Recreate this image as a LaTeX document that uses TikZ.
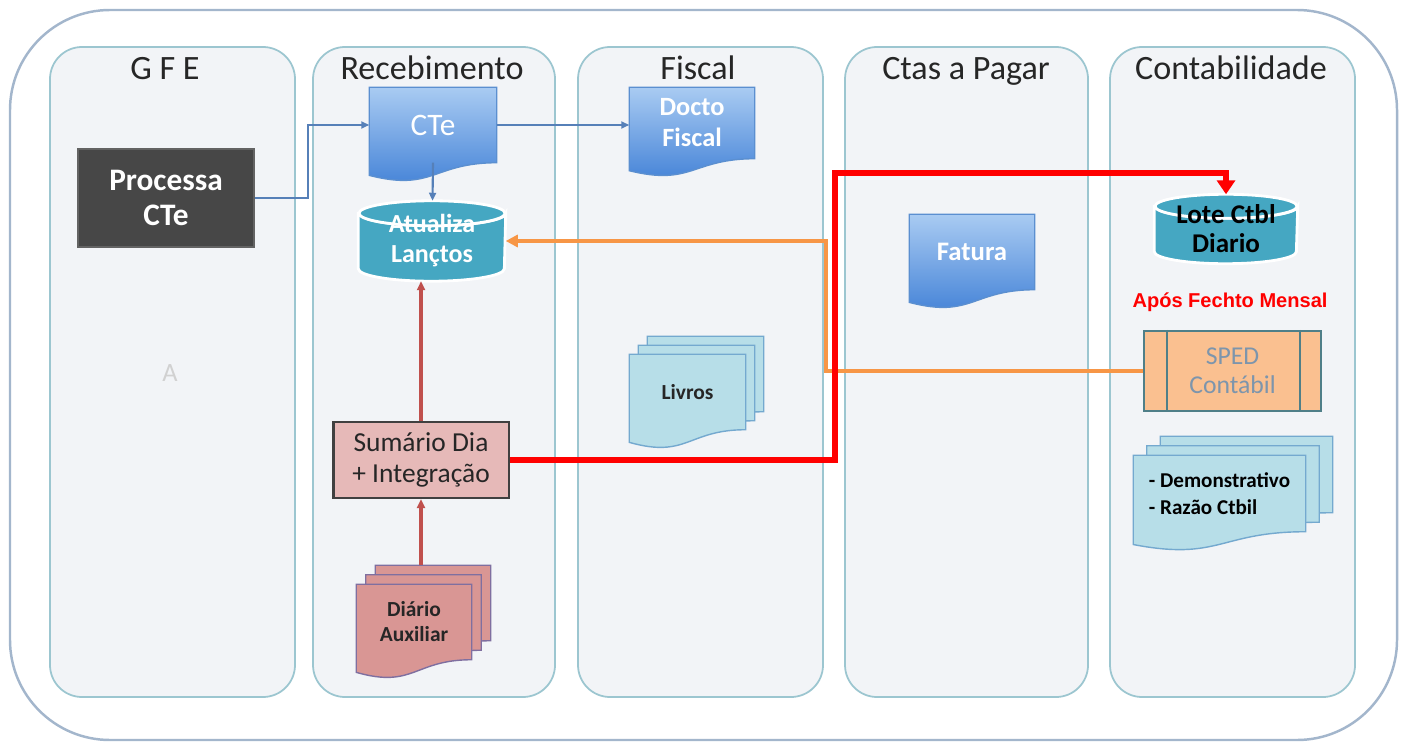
\documentclass[tikz,border=0pt]{standalone}
\usepackage{fontspec}
\setmainfont{Carlito}
\newfontfamily\arialfont{Liberation Sans}
\usepackage{xcolor}
\definecolor{lanefill}{HTML}{F2F4F7}
\definecolor{laneline}{HTML}{9CC6D0}
\definecolor{outerline}{HTML}{A3B6CC}
\definecolor{darkbox}{HTML}{474747}
\definecolor{doctop}{HTML}{A9CBF2}
\definecolor{docbot}{HTML}{3F7FD6}
\definecolor{docline}{HTML}{5B8FD0}
\definecolor{dbfill}{HTML}{45A7C2}
\definecolor{sumfill}{HTML}{E6B9B8}
\definecolor{diafill}{HTML}{D99694}
\definecolor{dialine}{HTML}{7F6FA0}
\definecolor{bookfill}{HTML}{B7DEE8}
\definecolor{bookline}{HTML}{74A9CF}
\definecolor{spedfill}{HTML}{FAC090}
\definecolor{spedline}{HTML}{4F7F88}
\definecolor{spedtext}{HTML}{7D95AC}
\definecolor{flowblue}{HTML}{5680B8}
\definecolor{flowbrown}{HTML}{C0504D}
\definecolor{flowred}{HTML}{FF0000}
\definecolor{floworange}{HTML}{F79646}
\usepackage{tikz}
\usetikzlibrary{arrows.meta,calc,backgrounds}
\pgfdeclarelayer{docs}
\pgfsetlayers{background,docs,main}
\newcommand{\docshape}[3]{%
  \path[#2] ($(#1.north west)+(#3)$) -- ($(#1.north east)+(#3)$) -- ($(#1.south east)+(#3)$)
    .. controls ($(#1.south)+(#3)$) and ($(#1.north)!1.385!(#1.south)+(#3)$)
    .. ($(#1.north west)!1.1675!(#1.south west)+(#3)$) -- cycle;}
\newcommand{\multidoc}[4]{%
  \docshape{#1}{#2}{2*#3,-2*#4}
  \docshape{#1}{#2}{#3,-#4}
  \docshape{#1}{#2}{0,0}}
\newcommand{\dbshape}[3]{%
  \path[dbpaint] ([yshift=-#3]#1.north west) -- ([yshift=#3]#1.south west)
    arc[start angle=180, end angle=360, x radius=#2, y radius=#3]
    -- ([yshift=-#3]#1.north east)
    arc[start angle=0, end angle=-180, x radius=#2, y radius=#3] -- cycle;
  \path[dbpaint] ([yshift=-#3]#1.north) ellipse[x radius=#2, y radius=#3];}

\begin{document}
\begin{tikzpicture}[
  x=0.01cm, y=-0.01cm,
  frame/.style={draw=outerline, fill=white, rounded corners=1cm, line width=0.7pt},
  lane/.style={draw=laneline, fill=lanefill, rounded corners=0.32cm, line width=0.5pt},
  title/.style={anchor=base, font=\fontsize{9.7}{11}\selectfont, text=black!85},
  procbox/.style={fill=darkbox, draw=darkbox!85, text=white, font=\fontsize{8.9}{10.2}\selectfont\bfseries, align=center, minimum width=1.76cm, minimum height=0.98cm, inner sep=0pt},
  docnode/.style={inner sep=0pt, align=center, text=white, font=\fontsize{7.5}{8.8}\selectfont\bfseries},
  bluedoc/.style={top color=doctop, bottom color=docbot, draw=docline, line width=0.4pt},
  bookdoc/.style={fill=bookfill, draw=bookline, line width=0.4pt},
  diadoc/.style={fill=diafill, draw=dialine, line width=0.4pt},
  dbnode/.style={align=center, inner sep=0pt, font=\fontsize{7.4}{8.5}\selectfont\bfseries},
  dbpaint/.style={fill=dbfill, draw=white, line width=0.8pt},
  sumbox/.style={fill=sumfill, draw=black!75, line width=0.6pt, align=center, inner sep=0pt, minimum width=1.75cm, minimum height=0.76cm, font=\fontsize{7.8}{8.8}\selectfont, text=black!85},
  spedbox/.style={fill=spedfill, draw=spedline, line width=0.6pt, align=center, inner sep=0pt, minimum width=1.77cm, minimum height=0.8cm, font=\fontsize{7.3}{8.3}\selectfont, text=spedtext},
  blueline/.style={-{Triangle[length=0.8mm, width=0.7mm]}, draw=flowblue, line width=0.6pt},
  brownline/.style={-{Triangle[length=0.9mm, width=0.8mm]}, draw=flowbrown, line width=0.9pt},
  redline/.style={-{Triangle[length=1.4mm, width=1.8mm]}, draw=flowred, line width=1.7pt},
  orangeline/.style={-{Triangle[length=1.2mm, width=1.2mm]}, draw=floworange, line width=1.2pt}
]
\useasboundingbox (0,0) rectangle (1401,743);

\begin{scope}[on background layer]
\draw[frame] (10,10) rectangle (1397,740);
\draw[lane] (50,47) rectangle (295,697);
\draw[lane] (313,47) rectangle (555,697);
\draw[lane] (578,47) rectangle (823,697);
\draw[lane] (845,47) rectangle (1088,697);
\draw[lane] (1110,47) rectangle (1355,697);
\end{scope}

\node[title] (tgfe) at (165,80) {G F E};
\node[title] (trec) at (432,80) {Recebimento};
\node[title] (tfis) at (698,80) {Fiscal};
\node[title] (tctas) at (966,80) {Ctas a Pagar};
\node[title] (tcont) at (1231,80) {Contabilidade};

\node[font=\fontsize{7.5}{8}\selectfont, text=black!18] (gfea) at (170,373) {A};

\node[procbox] (proc) at (166,198) {Processa\\CTe};
\node[docnode, minimum width=1.26cm, minimum height=0.74cm, font=\fontsize{8.9}{10}\selectfont] (cte) at (433,125) {CTe};
\node[docnode, minimum width=1.24cm, minimum height=0.70cm] (docto) at (692,123) {Docto\\Fiscal};
\node[dbnode, text=white, minimum width=1.46cm, minimum height=0.79cm] (atualiza) at (432,241) {Atualiza\\Lançtos};
\node[sumbox] (sumario) at (421,460) {Sumário Dia\\+ Integração};
\node[docnode, text=black!85, font=\fontsize{6.1}{7.1}\selectfont\bfseries, minimum width=1.14cm, minimum height=0.74cm] (diario) at (414,622) {Diário\\Auxiliar};
\node[docnode, text=black!85, font=\fontsize{6.1}{7.1}\selectfont\bfseries, minimum width=1.15cm, minimum height=0.74cm] (livros) at (687.5,392) {Livros};
\node[docnode, minimum width=1.24cm, minimum height=0.74cm, font=\fontsize{7.6}{8.8}\selectfont\bfseries] (fatura) at (972,252) {Fatura};
\node[dbnode, text=black, minimum width=1.42cm, minimum height=0.68cm, font=\fontsize{7.7}{8.3}\selectfont\bfseries] (lote) at (1226,229) {Lote Ctbl\\Diario};
\node[font=\arialfont\fontsize{5.7}{6.5}\selectfont\bfseries, text=flowred] (fechto) at (1230,302) {Após Fechto Mensal};
\node[spedbox] (sped) at (1232.5,371) {SPED\\Contábil};
\node[docnode, text=black, align=left, minimum width=1.71cm, minimum height=0.75cm, font=\fontsize{6.0}{7.6}\selectfont\bfseries] (demo) at (1219.5,493.5) {- Demonstrativo\\- Razão Ctbil};

\draw[spedline, line width=0.6pt] ($(sped.north west)+(24,0)$) -- ($(sped.south west)+(24,0)$);
\draw[spedline, line width=0.6pt] ($(sped.north east)+(-22,0)$) -- ($(sped.south east)+(-22,0)$);

\begin{pgfonlayer}{docs}
\docshape{cte}{bluedoc}{0,0}
\docshape{docto}{bluedoc}{0,0}
\docshape{fatura}{bluedoc}{0,0}
\multidoc{livros}{bookdoc}{9}{9}
\multidoc{diario}{diadoc}{9.5}{9.5}
\multidoc{demo}{bookdoc}{13.5}{9.5}
\dbshape{atualiza}{0.73cm}{0.125cm}
\dbshape{lote}{0.71cm}{0.12cm}
\end{pgfonlayer}

\draw[blueline] (proc.east) -- ++(53,0) |- (cte.west);
\draw[blueline] (cte.east) -- (cte.east -| docto.west);
\draw[blueline] (cte.south) -- (atualiza);
\draw[brownline] (sumario.north) -- (sumario.north |- atualiza.south);
\draw[brownline] (sumario.south |- diario.north) ++(0,-19) -- (sumario.south);
\draw[orangeline] (sped.west) -- ++(-317,0) |- (atualiza.east);
\draw[redline] (sumario.east) -- ++(325,0) |- ([yshift=0.21cm]lote.north) -- (lote.north);
\end{tikzpicture}
\end{document}
